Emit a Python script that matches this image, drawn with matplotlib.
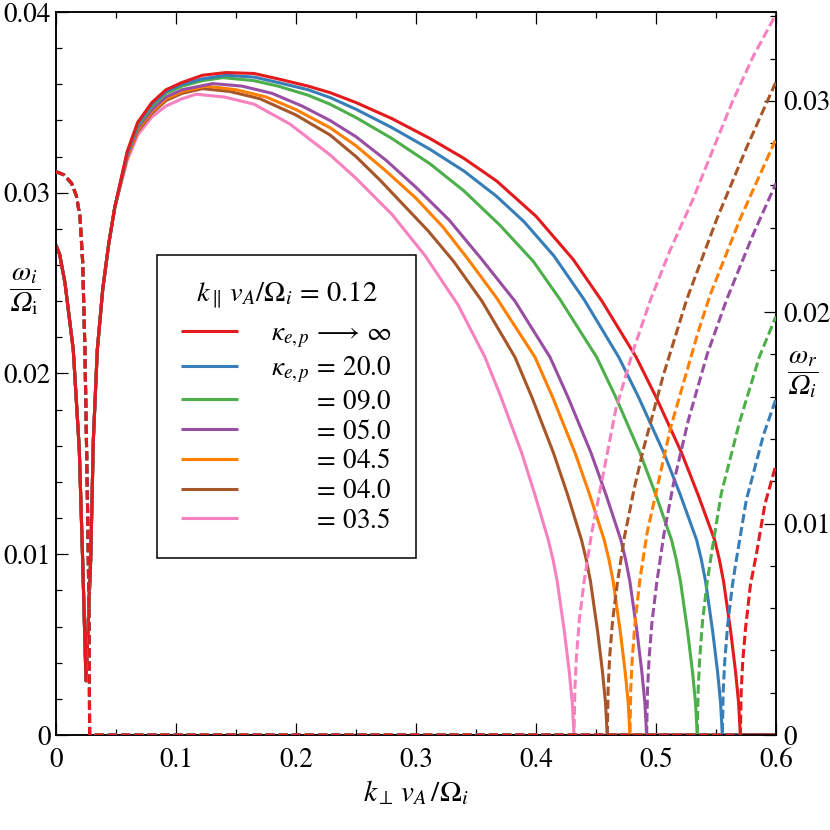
import matplotlib
matplotlib.use('Agg')
import matplotlib.pyplot as plt
from matplotlib.font_manager import FontProperties
from matplotlib.ticker import MultipleLocator, FixedLocator, FixedFormatter

plt.rcParams['font.family'] = 'STIXGeneral'
plt.rcParams['mathtext.fontset'] = 'stix'

# colours / legend values, order: kappa -> inf, 20, 9, 5, 4.5, 4, 3.5
colors = ['#e41a1c', '#377eb8', '#4daf4a', '#984ea3', '#ff7f00', '#a65628', '#f781bf']
kappa_vals = ['20.0', '09.0', '05.0', '04.5', '04.0', '03.5']

# growth rate omega_i (left axis), low-k part shared by all curves
k_low = [0, 0.003, 0.0075, 0.0144, 0.0194, 0.0222, 0.025, 0.0289, 0.0311, 0.0344, 0.039, 0.044, 0.049]
wi_low = [0.0271, 0.0266, 0.0250, 0.0213, 0.0158, 0.0097, 0.0030, 0.0097, 0.0163, 0.0213, 0.0247, 0.0272, 0.0292]

k_red = [0.0594, 0.0681, 0.080, 0.0917, 0.105, 0.122, 0.1417, 0.165, 0.185, 0.21, 0.2283, 0.25, 0.28, 0.3117,
         0.34, 0.3672, 0.40, 0.4311, 0.455, 0.4835, 0.50, 0.5214, 0.535, 0.5488, 0.5528, 0.5563, 0.5623,
         0.5663, 0.5688, 0.5703, 0.6]
wi_red = [0.0323, 0.0339, 0.0350, 0.0357, 0.0361, 0.0365, 0.03665, 0.0366, 0.0363, 0.0359, 0.03554, 0.03499,
          0.0341, 0.0330, 0.0319, 0.03065, 0.0287, 0.0263, 0.0240, 0.0209, 0.0187, 0.0156, 0.0133, 0.0108,
          0.0097, 0.0085, 0.0057, 0.0035, 0.0018, 0, 0]

k_blue = [0.0594, 0.0681, 0.080, 0.0917, 0.105, 0.122, 0.1417, 0.165, 0.185, 0.21, 0.2283, 0.25, 0.28, 0.3117,
          0.34, 0.3672, 0.39, 0.415, 0.44, 0.469, 0.4854, 0.5066, 0.5202, 0.5338, 0.5378, 0.5413, 0.5473,
          0.5513, 0.5538, 0.5553, 0.6]
wi_blue = [0.0322, 0.0338, 0.0349, 0.0356, 0.0360, 0.0363, 0.0365, 0.0364, 0.0361, 0.0357, 0.03527, 0.03462,
           0.0336, 0.0324, 0.0312, 0.0298, 0.0284, 0.0265, 0.0241, 0.0209, 0.0187, 0.0156, 0.0133, 0.0108,
           0.0097, 0.0085, 0.0057, 0.0035, 0.0018, 0, 0]

k_green = [0.0594, 0.0681, 0.080, 0.0917, 0.105, 0.122, 0.139, 0.165, 0.185, 0.21, 0.2283, 0.25, 0.28, 0.3117,
           0.34, 0.37, 0.3978, 0.42, 0.4506, 0.4664, 0.4867, 0.4998, 0.5129, 0.5169, 0.5204, 0.5264, 0.5304,
           0.5329, 0.5344, 0.6]
wi_green = [0.0322, 0.0337, 0.0348, 0.0355, 0.0359, 0.0362, 0.03637, 0.0362, 0.0359, 0.0354, 0.0349, 0.03416,
            0.0330, 0.0316, 0.0301, 0.0282, 0.0262, 0.0241, 0.0209, 0.0187, 0.0156, 0.0133, 0.0108, 0.0097,
            0.0085, 0.0057, 0.0035, 0.0018, 0, 0]

k_purple = [0.0594, 0.0681, 0.080, 0.0917, 0.105, 0.1306, 0.155, 0.18, 0.205, 0.2283, 0.25, 0.275, 0.30,
            0.3275, 0.355, 0.3825, 0.4117, 0.4266, 0.4459, 0.4583, 0.4707, 0.4747, 0.4782, 0.4842, 0.4882,
            0.4907, 0.4922, 0.6]
wi_purple = [0.0321, 0.0336, 0.0346, 0.0353, 0.0357, 0.03604, 0.0359, 0.0355, 0.0348, 0.0340, 0.0331, 0.0318,
             0.0303, 0.0285, 0.0263, 0.0240, 0.0209, 0.0187, 0.0156, 0.0133, 0.0108, 0.0097, 0.0085, 0.0057,
             0.0035, 0.0018, 0, 0]

k_orange = [0.0594, 0.0681, 0.080, 0.0917, 0.105, 0.125, 0.15, 0.175, 0.20, 0.2283, 0.25, 0.275, 0.30, 0.3225,
            0.3425, 0.367, 0.3992, 0.4138, 0.4326, 0.4447, 0.4568, 0.4608, 0.4643, 0.4703, 0.4743, 0.4768,
            0.4783, 0.6]
wi_orange = [0.0320, 0.0335, 0.0345, 0.0352, 0.0356, 0.0359, 0.0357, 0.0353, 0.0346, 0.0336, 0.0326, 0.0312,
             0.0297, 0.0281, 0.0264, 0.0242, 0.0209, 0.0187, 0.0156, 0.0133, 0.0108, 0.0097, 0.0085, 0.0057,
             0.0035, 0.0018, 0, 0]

k_brown = [0.0594, 0.0681, 0.080, 0.0917, 0.105, 0.1222, 0.145, 0.17, 0.20, 0.2283, 0.25, 0.27, 0.29, 0.31,
           0.3314, 0.355, 0.3825, 0.3965, 0.4146, 0.4263, 0.4379, 0.4419, 0.4454, 0.4514, 0.4554, 0.4579,
           0.4594, 0.6]
wi_brown = [0.0320, 0.0334, 0.0344, 0.0351, 0.0355, 0.03576, 0.0356, 0.0352, 0.0343, 0.0332, 0.0320, 0.0307,
            0.0293, 0.0279, 0.0262, 0.0240, 0.0209, 0.0187, 0.0156, 0.0133, 0.0108, 0.0097, 0.0085, 0.0057,
            0.0035, 0.0018, 0, 0]

k_pink = [0.0594, 0.0681, 0.080, 0.0917, 0.105, 0.1167, 0.14, 0.165, 0.195, 0.2283, 0.25, 0.28, 0.3078, 0.335,
          0.3575, 0.3708, 0.3881, 0.3991, 0.4102, 0.4142, 0.4177, 0.4237, 0.4277, 0.4302, 0.4317, 0.6]
wi_pink = [0.0318, 0.0332, 0.0342, 0.0348, 0.0352, 0.03545, 0.0353, 0.0349, 0.0338, 0.0321, 0.0308, 0.0288,
           0.0265, 0.0238, 0.0209, 0.0187, 0.0156, 0.0133, 0.0108, 0.0097, 0.0085, 0.0057, 0.0035, 0.0018, 0, 0]

# real frequency omega_r (right axis), shared low-k part
kr_low = [0, 0.0065, 0.013, 0.017, 0.020, 0.0222, 0.0241, 0.0255, 0.0268, 0.0277, 0.028]
wr_low = [0.02665, 0.0265, 0.0261, 0.0255, 0.0245, 0.0224, 0.0182, 0.0135, 0.0090, 0.0045, 0]

kr_red = [0.5703, 0.5710, 0.5723, 0.5747, 0.5787, 0.5838, 0.5907, 0.6]
wr_red = [0, 0.0021, 0.0035, 0.0051, 0.0071, 0.0086, 0.0109, 0.0128]
kr_blue = [0.5553, 0.5560, 0.5573, 0.5597, 0.5637, 0.5667, 0.5752, 0.5896, 0.6]
wr_blue = [0, 0.0021, 0.0035, 0.0052, 0.0071, 0.0082, 0.0111, 0.0142, 0.0159]
kr_green = [0.5344, 0.5351, 0.5364, 0.5388, 0.5428, 0.5466, 0.5543, 0.5696, 0.5862, 0.6]
wr_green = [0, 0.0021, 0.0036, 0.0054, 0.0073, 0.0087, 0.0114, 0.0148, 0.0179, 0.0198]
kr_purple = [0.4922, 0.4929, 0.4942, 0.4966, 0.5006, 0.5066, 0.5146, 0.527, 0.5426, 0.5589, 0.5811, 0.6]
wr_purple = [0, 0.0021, 0.0036, 0.0053, 0.0072, 0.0095, 0.0119, 0.0149, 0.0180, 0.0206, 0.0237, 0.0261]
kr_orange = [0.4783, 0.4790, 0.4803, 0.4827, 0.4867, 0.4927, 0.5006, 0.512, 0.5353, 0.545, 0.570, 0.6]
wr_orange = [0, 0.0022, 0.0037, 0.0054, 0.0074, 0.0096, 0.0116, 0.0145, 0.0191, 0.0208, 0.0244, 0.0282]
kr_brown = [0.4594, 0.4601, 0.4614, 0.4638, 0.4678, 0.4738, 0.482, 0.4894, 0.506, 0.5256, 0.5506, 0.5756, 0.6]
wr_brown = [0, 0.0022, 0.0037, 0.0054, 0.0072, 0.0094, 0.0117, 0.0135, 0.0170, 0.0206, 0.0244, 0.0278, 0.0309]
kr_pink = [0.4317, 0.4324, 0.4337, 0.4362, 0.4402, 0.4462, 0.4545, 0.4665, 0.4805, 0.4955, 0.5115, 0.5305,
           0.5475, 0.564, 0.581, 0.6]
wr_pink = [0, 0.0022, 0.0037, 0.0055, 0.0073, 0.0095, 0.0119, 0.0154, 0.0181, 0.0206, 0.0229, 0.0253,
           0.0277, 0.0300, 0.0321, 0.0341]

x_ticks = [0, 0.1, 0.2, 0.3, 0.4, 0.5, 0.6]
x_ticklabels = ['0', '0.1', '0.2', '0.3', '0.4', '0.5', '0.6']
yl_ticks = [0, 0.01, 0.02, 0.03, 0.04]
yl_ticklabels = ['0', '0.01', '0.02', '0.03', '0.04']
yr_ticks = [0, 0.01, 0.02, 0.03]
yr_ticklabels = ['0', '0.01', '0.02', '0.03']

solid = [(k_red, wi_red), (k_blue, wi_blue), (k_green, wi_green), (k_purple, wi_purple),
         (k_orange, wi_orange), (k_brown, wi_brown), (k_pink, wi_pink)]
dashed = [(kr_red, wr_red), (kr_blue, wr_blue), (kr_green, wr_green), (kr_purple, wr_purple),
          (kr_orange, wr_orange), (kr_brown, wr_brown), (kr_pink, wr_pink)]

fig = plt.figure(figsize=(8.3, 8.3), dpi=100)
ax = fig.add_axes([56 / 830, 95 / 830, 720 / 830, 723 / 830])
ax2 = ax.twinx()

handles = [None] * 7
for i in range(6, -1, -1):
    kk, ww = solid[i]
    ln, = ax.plot(k_low + kk, wi_low + ww, color=colors[i], lw=2.2, solid_capstyle='butt', zorder=10 - i)
    handles[i] = ln
for i in range(6, -1, -1):
    kk, ww = dashed[i]
    ax2.plot(kr_low + kk, wr_low + ww, color=colors[i], lw=2.2, dashes=(3, 1.3), zorder=10 - i)

ax.set_xlim(0, 0.6)
ax.set_ylim(0, 0.04)
ax2.set_ylim(0, 0.0342)

ax.xaxis.set_major_locator(FixedLocator(x_ticks))
ax.xaxis.set_major_formatter(FixedFormatter(x_ticklabels))
ax.xaxis.set_minor_locator(MultipleLocator(0.05))
ax.yaxis.set_major_locator(FixedLocator(yl_ticks))
ax.yaxis.set_major_formatter(FixedFormatter(yl_ticklabels))
ax.yaxis.set_minor_locator(MultipleLocator(0.002))
ax2.yaxis.set_major_locator(FixedLocator(yr_ticks))
ax2.yaxis.set_major_formatter(FixedFormatter(yr_ticklabels))
ax2.yaxis.set_minor_locator(MultipleLocator(0.002))

ax.tick_params(which='both', direction='in', top=True, right=False, width=0.9, labelsize=19.5)
ax.tick_params(which='major', length=8.5)
ax.tick_params(which='minor', length=4.3)
ax.tick_params(axis='x', pad=9)
ax.tick_params(axis='y', pad=3.5)
ax2.tick_params(which='both', direction='in', width=0.9, labelsize=19.5, pad=5)
ax2.tick_params(which='major', length=8.5)
ax2.tick_params(which='minor', length=4.3)
for a in (ax, ax2):
    for s in a.spines.values():
        s.set_linewidth(1.1)

# italic capital omega (U+1D6FA) for the y labels
ax.set_xlabel(r'$k_{\perp}\, v_A\,/\Omega_i$', fontsize=21, labelpad=4)
ax.set_ylabel('$\\dfrac{\\omega_i}{\\mathrm{\U0001D6FA}_{\\mathrm{i}}}$', fontsize=20, rotation=0,
              ha='center', va='center')
ax.yaxis.set_label_coords(-0.043, 0.613)
ax2.set_ylabel('$\\dfrac{\\omega_r}{\\mathrm{\U0001D6FA}_i}$', fontsize=20, rotation=0,
               ha='center', va='center')
ax2.yaxis.set_label_coords(1.037, 0.498)

# legend labels: lower rows right aligned under "kappa_{e,p} = 20.0"
leg_size = 19.5
renderer = fig.canvas.get_renderer()


def text_width(s):
    t = fig.text(0, 0, s, fontsize=leg_size)
    w = t.get_window_extent(renderer).width
    t.remove()
    return w


w_full = text_width(r'$\kappa_{e,p}\,=\,20.0$')
w_plain = text_width(r'$\,=\,20.0$')
w_unit = text_width(r'$\hspace{1.0}\,=\,20.0$')
hs = (w_full - w_plain) / (w_unit - w_plain) if w_unit > w_plain else 1.4

labels = [r'$\kappa_{e,p}\,\longrightarrow\,\infty$', r'$\kappa_{e,p}\,=\,%s$' % kappa_vals[0]]
labels += [r'$\hspace{%.3f}\,=\,%s$' % (hs, v) for v in kappa_vals[1:]]

leg = ax2.legend(handles, labels, title=r'$k_{\parallel}\, v_A/\Omega_i\,=\,0.12$',
                 prop=FontProperties(family='STIXGeneral', size=leg_size),
                 title_fontproperties=FontProperties(family='STIXGeneral', size=20.5),
                 loc='upper left', bbox_to_anchor=(0.1403, 0.664), borderaxespad=0,
                 fancybox=False, edgecolor='black', framealpha=1,
                 handlelength=2.1, handletextpad=1.2, borderpad=0.9, labelspacing=0.17)
leg.get_frame().set_linewidth(1.1)
leg.set_zorder(20)
# a bit more room between the title and the first entry
leg._legend_box.sep = 0.17 * leg_size + 4.5

fig.savefig('out.png', dpi=100)
